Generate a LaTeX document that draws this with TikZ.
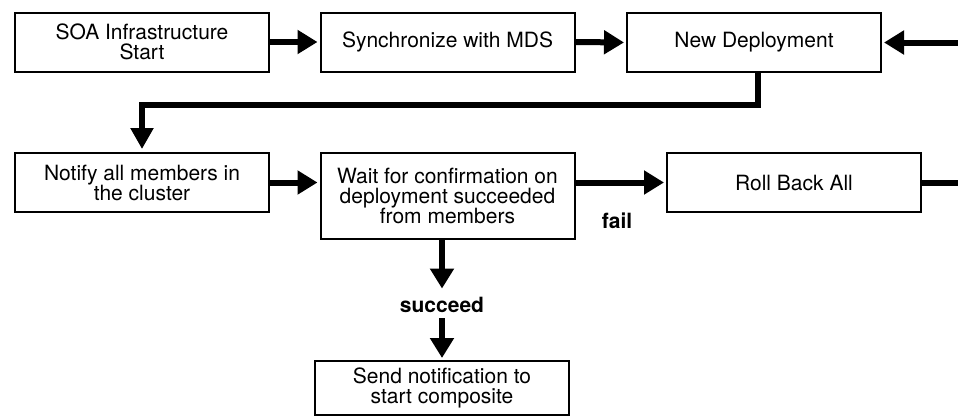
\documentclass[tikz,border=0pt]{standalone}
\usepackage{fontspec}
\setmainfont{TeX Gyre Heros}
\usetikzlibrary{arrows.meta}
\begin{document}
\begin{tikzpicture}[x=1pt,y=-1pt,
  box/.style={draw, line width=2pt, minimum width=254pt, minimum height=59pt,
    inner sep=0pt, align=center, font=\fontsize{21}{20}\selectfont},
  conn/.style={line width=6pt, -{Triangle[length=20pt,width=23pt]}, shorten >=2pt},
  plainconn/.style={line width=6pt},
  elbow/.style={line width=5.5pt, -{Triangle[length=21pt,width=22pt]}, shorten >=3pt},
  lbl/.style={font=\fontsize{21}{20}\selectfont\bfseries, inner sep=0pt}]
\useasboundingbox (0,0) rectangle (958,418);

\node[box] (soa) at (142,42) {SOA Infrastructure\\Start};
\node[box] (sync) at (447.5,42) {Synchronize with MDS};
\node[box] (nd) at (754,42.5) {New Deployment};
\node[box] (notify) at (142,182.5) {Notify all members in\\the cluster};
\node[box, minimum height=86pt] (wait) at (447.5,196) {Wait for confirmation on\\deployment succeeded\\from members};
\node[box] (rb) at (794,182.5) {Roll Back All};
\node[box, minimum height=54pt] (send) at (442,388) {Send notification to\\start composite};

\node[lbl] (fail) at (617,221) {fail};
\node[lbl] (succ) at (442,304.5) {succeed};

\coordinate (inR) at (962,42.5);
\coordinate (outR) at (962,182.5);

\draw[conn] (soa.east) -- (sync.west);
\draw[conn] (sync.east) -- (nd.west);
\draw[conn] (inR) -- (nd.east);
\draw[elbow] ([xshift=4pt]nd.south) -- ++(0,32) -| (notify.north);
\draw[conn] (notify.east) -- (notify.east -| wait.west);
\draw[conn] (wait.east |- rb.west) -- (rb.west);
\draw[plainconn] (rb.east) -- (outR);
\draw[conn, shorten >=0pt] (wait.south -| succ.north) -- ([yshift=8pt]succ.north);
\draw[conn] ([yshift=-6pt]succ.south) -- (send.north);
\end{tikzpicture}
\end{document}
